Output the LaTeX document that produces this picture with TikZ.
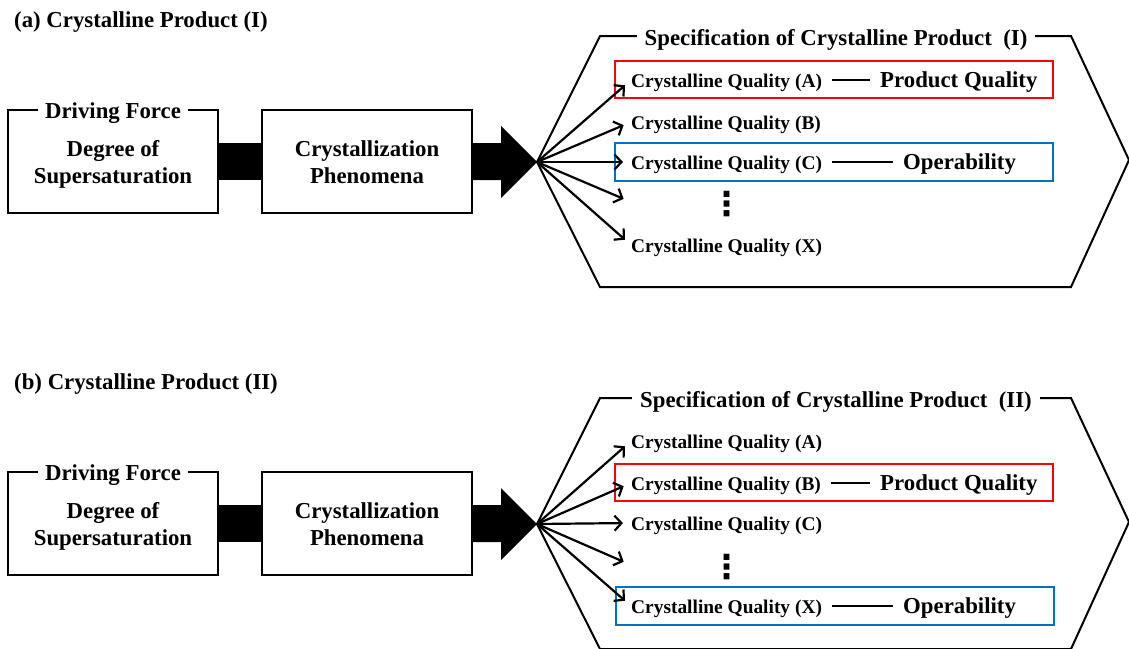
\documentclass[tikz,border=0pt]{standalone}
\usepackage{fontspec}
\setmainfont{Liberation Serif}
\newfontfamily\dejavu{DejaVu Sans}
\usetikzlibrary{arrows.meta,calc}
\tikzset{
  bigtxt/.style={font=\fontsize{22.8}{27}\selectfont\bfseries},
  smalltxt/.style={font=\fontsize{19.4}{23}\selectfont\bfseries, inner sep=0pt, anchor=west},
  frame/.style={draw, line width=2pt, minimum width=210pt, minimum height=103pt, align=center, bigtxt},
  tag/.style={fill=white, bigtxt, inner xsep=7pt, inner ysep=1pt},
  fanarr/.style={line width=2.2pt, -{Straight Barb[length=7pt,width=15pt]}, shorten >=8pt},
  link/.style={line width=2pt},
  redbox/.style={draw=red, line width=2pt, minimum width=438pt, minimum height=37pt},
  bluebox/.style={draw=blueB, line width=2pt, minimum width=438pt, minimum height=38pt},
  dotsnode/.style={font=\dejavu\bfseries\fontsize{33}{33}\selectfont, inner sep=0pt},
}
\newcommand\lowered[1]{\raisebox{-3pt}[\height][\depth]{\begin{tabular}{@{}c@{}}#1\end{tabular}}}
\definecolor{blueB}{RGB}{0,112,192}
\begin{document}
\begin{tikzpicture}[x=1pt,y=-1pt]
\useasboundingbox (0,0) rectangle (1129,648);
\clip (0,0) rectangle (1129,648);
\fill[white] (0,0) rectangle (1129,648);

% ---------------- panel (a) ----------------
\node[bigtxt, anchor=west, inner sep=0pt] (ta) at (14,22) {(a) Crystalline Product (I)};
\node[frame] (df) at (113,161.5) {\lowered{Degree of\\Supersaturation}};
\node[tag] (dfl) at (113,113) {Driving Force};
\node[frame] (cp) at (367,161.5) {\lowered{Crystallization\\Phenomena}};
\fill ($(df.east)+(0,-18.5)$) rectangle ($(cp.west)+(0,18.5)$);
\coordinate (fan) at (537,162);
\fill ($(cp.east)+(-1,-18.5)$) -- (501,143) -- (501,126) -- (fan) -- (501,198) -- (501,180) -- ($(cp.east)+(-1,18.5)$) -- cycle;
\draw[line width=2pt, line join=miter] (fan) -- (600,36) -- (1071,36) -- (1129,160) -- (1071,287) -- (600,287) -- cycle;
\node[tag, inner xsep=8pt] (spa) at (836,40) {Specification of Crystalline Product~~(I)};
\node[redbox] (rba) at (834,79.5) {};
\node[bluebox] (bba) at (834,162) {};
\node[smalltxt] (qaA) at (631,82.5) {Crystalline Quality (A)};
\node[smalltxt] (qaB) at (631,124.5) {Crystalline Quality (B)};
\node[smalltxt] (qaC) at (631,164.5) {Crystalline Quality (C)};
\coordinate (qaD) at (631,202);
\node[smalltxt] (qaX) at (631,247.5) {Crystalline Quality (X)};
\node[dotsnode] (dta) at (727,204) {⋮};
\node[bigtxt, anchor=west, inner sep=0pt] (pqa) at (880,82.5) {Product Quality};
\node[bigtxt, anchor=west, inner sep=0pt] (opa) at (903,164.5) {Operability};
\draw[link] ($(qaA.east)+(10,-2.5)$) -- ($(pqa.west)+(-10,-2.5)$);
\draw[link] ($(qaC.east)+(10,-2.5)$) -- ($(opa.west)+(-10,-2.5)$);
\foreach \t in {qaA,qaB,qaC,qaX} \draw[fanarr] (fan) -- ($(\t.west)+(0,-2.5)$);
\draw[fanarr] (fan) -- (qaD);

% ---------------- panel (b) ----------------
\begin{scope}[yshift=-362pt]
\node[bigtxt, anchor=west, inner sep=0pt] (tb) at (14,22) {(b) Crystalline Product (II)};
\node[frame] (df2) at (113,161.5) {\lowered{Degree of\\Supersaturation}};
\node[tag] (dfl2) at (113,113) {Driving Force};
\node[frame] (cp2) at (367,161.5) {\lowered{Crystallization\\Phenomena}};
\fill ($(df2.east)+(0,-18.5)$) rectangle ($(cp2.west)+(0,18.5)$);
\coordinate (fan2) at (537,162);
\fill ($(cp2.east)+(-1,-18.5)$) -- (501,143) -- (501,126) -- (fan2) -- (501,198) -- (501,180) -- ($(cp2.east)+(-1,18.5)$) -- cycle;
\draw[line width=2pt, line join=miter] (fan2) -- (600,36) -- (1071,36) -- (1129,160) -- (1071,287) -- (600,287) -- cycle;
\node[tag, inner xsep=8pt] (spb) at (836,40) {Specification of Crystalline Product~~(II)};
\node[redbox] (rbb) at (834,120.5) {};
\node[bluebox] (bbb) at (835,244) {};
\node[smalltxt] (qbA) at (631,81.5) {Crystalline Quality (A)};
\node[smalltxt] (qbB) at (631,123.5) {Crystalline Quality (B)};
\node[smalltxt] (qbC) at (631,163.5) {Crystalline Quality (C)};
\coordinate (qbD) at (631,203);
\node[smalltxt] (qbX) at (631,246.5) {Crystalline Quality (X)};
\node[dotsnode] (dtb) at (727,205) {⋮};
\node[bigtxt, anchor=west, inner sep=0pt] (pqb) at (880,123.5) {Product Quality};
\node[bigtxt, anchor=west, inner sep=0pt] (opb) at (903,246.5) {Operability};
\draw[link] ($(qbB.east)+(10,-2.5)$) -- ($(pqb.west)+(-10,-2.5)$);
\draw[link] ($(qbX.east)+(10,-2.5)$) -- ($(opb.west)+(-10,-2.5)$);
\foreach \t in {qbA,qbB,qbC,qbX} \draw[fanarr] (fan2) -- ($(\t.west)+(0,-2.5)$);
\draw[fanarr] (fan2) -- (qbD);
\end{scope}
\end{tikzpicture}
\end{document}
